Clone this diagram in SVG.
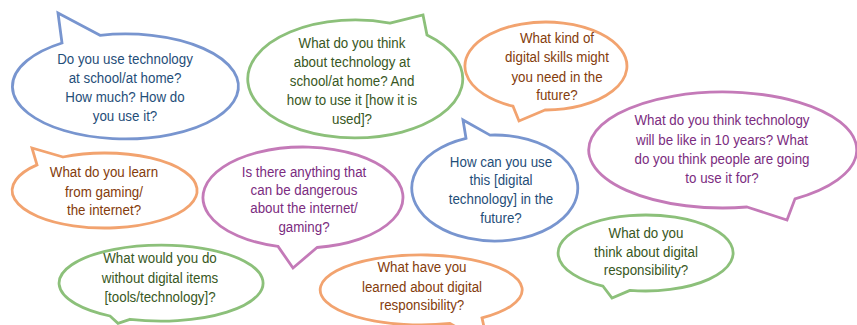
<svg xmlns="http://www.w3.org/2000/svg" width="857" height="325" viewBox="0 0 857 325">
  <style>
    .bubble { fill: #ffffff; stroke-width: 2.8; stroke-linejoin: miter; }
    .blue { stroke: #7895cf; }
    .green { stroke: #8cc07a; }
    .orange { stroke: #f2a36f; }
    .purple { stroke: #c47ab8; }
    text { font-family: "Liberation Sans", Arial, sans-serif; font-size: 15px; text-anchor: middle; }
    .t-blue { fill: #1f4e79; }
    .t-green { fill: #385723; }
    .t-orange { fill: #843c0c; }
    .t-purple { fill: #7b2c80; }
  </style>
  <rect width="857" height="325" fill="#ffffff"/>

  <!-- Speech bubbles: ellipse outline with a pointed tail -->
  <g id="q-use-technology">
    <path class="bubble blue" d="M100,35.3 L58,13 L62,43 A113 52.5 0 1 0 100,35.3 Z"/>
    <g transform="translate(125 0) scale(0.89 1)">
      <text class="t-blue"><tspan x="0" y="64">Do you use technology</tspan><tspan x="0" y="83">at school/at home?</tspan><tspan x="0" y="102">How much? How do</tspan><tspan x="0" y="121">you use it?</tspan></text>
    </g>
  </g>

  <g id="q-think-about-technology">
    <path class="bubble green" d="M390,23.1 L423,15 L427,35 A107.5 59 0 1 1 390,23.1 Z"/>
    <g transform="translate(352 0) scale(0.89 1)">
      <text class="t-green"><tspan x="0" y="48">What do you think</tspan><tspan x="0" y="67">about technology at</tspan><tspan x="0" y="86">school/at home? And</tspan><tspan x="0" y="105">how to use it [how it is</tspan><tspan x="0" y="124">used]?</tspan></text>
    </g>
  </g>

  <g id="q-digital-skills">
    <path class="bubble orange" d="M545,110 L519,121 L513,106.2 A81 44 0 1 1 545,110 Z"/>
    <g transform="translate(557 0) scale(0.89 1)">
      <text class="t-orange"><tspan x="0" y="43">What kind of</tspan><tspan x="0" y="62">digital skills might</tspan><tspan x="0" y="82">you need in the</tspan><tspan x="0" y="100">future?</tspan></text>
    </g>
  </g>

  <g id="q-ten-years">
    <path class="bubble purple" d="M747,207 L787,220 L795,198.8 A134 58 0 1 0 747,207 Z"/>
    <g transform="translate(722 0) scale(0.89 1)">
      <text class="t-purple"><tspan x="0" y="125">What do you think technology</tspan><tspan x="0" y="145">will be like in 10 years? What</tspan><tspan x="0" y="164">do you think people are going</tspan><tspan x="0" y="183">to use it for?</tspan></text>
    </g>
  </g>

  <g id="q-learn-from-gaming">
    <path class="bubble orange" d="M63,157 L32,148 L37,164.9 A92.5 37.5 0 1 0 63,157 Z"/>
    <g transform="translate(104 0) scale(0.89 1)">
      <text class="t-orange"><tspan x="0" y="177">What do you learn</tspan><tspan x="0" y="197">from gaming/</tspan><tspan x="0" y="215">the internet?</tspan></text>
    </g>
  </g>

  <g id="q-dangerous">
    <path class="bubble purple" d="M317,247.5 L293,268 L278,246.4 A100 50.5 0 1 1 317,247.5 Z"/>
    <g transform="translate(304 0) scale(0.89 1)">
      <text class="t-purple"><tspan x="0" y="177">Is there anything that</tspan><tspan x="0" y="195">can be dangerous</tspan><tspan x="0" y="213">about the internet/</tspan><tspan x="0" y="232">gaming?</tspan></text>
    </g>
  </g>

  <g id="q-use-in-future">
    <path class="bubble blue" d="M490,135.1 L463,120 L466,138.3 A83 53 0 1 0 490,135.1 Z"/>
    <g transform="translate(501 0) scale(0.89 1)">
      <text class="t-blue"><tspan x="0" y="167">How can you use</tspan><tspan x="0" y="185">this [digital</tspan><tspan x="0" y="204">technology] in the</tspan><tspan x="0" y="223">future?</tspan></text>
    </g>
  </g>

  <g id="q-think-responsibility">
    <path class="bubble green" d="M630,290.4 L612,298 L603,286.2 A87.5 38 0 1 1 630,290.4 Z"/>
    <g transform="translate(646 0) scale(0.89 1)">
      <text class="t-green"><tspan x="0" y="238">What do you</tspan><tspan x="0" y="257">think about digital</tspan><tspan x="0" y="275">responsibility?</tspan></text>
    </g>
  </g>

  <g id="q-without-digital">
    <path class="bubble green" d="M130,319.3 L118,323.3 L110,316 A102 38 0 1 1 130,319.3 Z"/>
    <g transform="translate(160 0) scale(0.89 1)">
      <text class="t-green"><tspan x="0" y="263">What would you do</tspan><tspan x="0" y="283">without digital items</tspan><tspan x="0" y="302">[tools/technology]?</tspan></text>
    </g>
  </g>

  <g id="q-learned-responsibility">
    <path class="bubble orange" d="M450,323.5 L488,345 L482,317.9 A101 35 0 1 0 450,323.5 Z"/>
    <g transform="translate(422 0) scale(0.89 1)">
      <text class="t-orange"><tspan x="0" y="272">What have you</tspan><tspan x="0" y="292">learned about digital</tspan><tspan x="0" y="310">responsibility?</tspan></text>
    </g>
  </g>

  <g id="connectors"/>
</svg>
